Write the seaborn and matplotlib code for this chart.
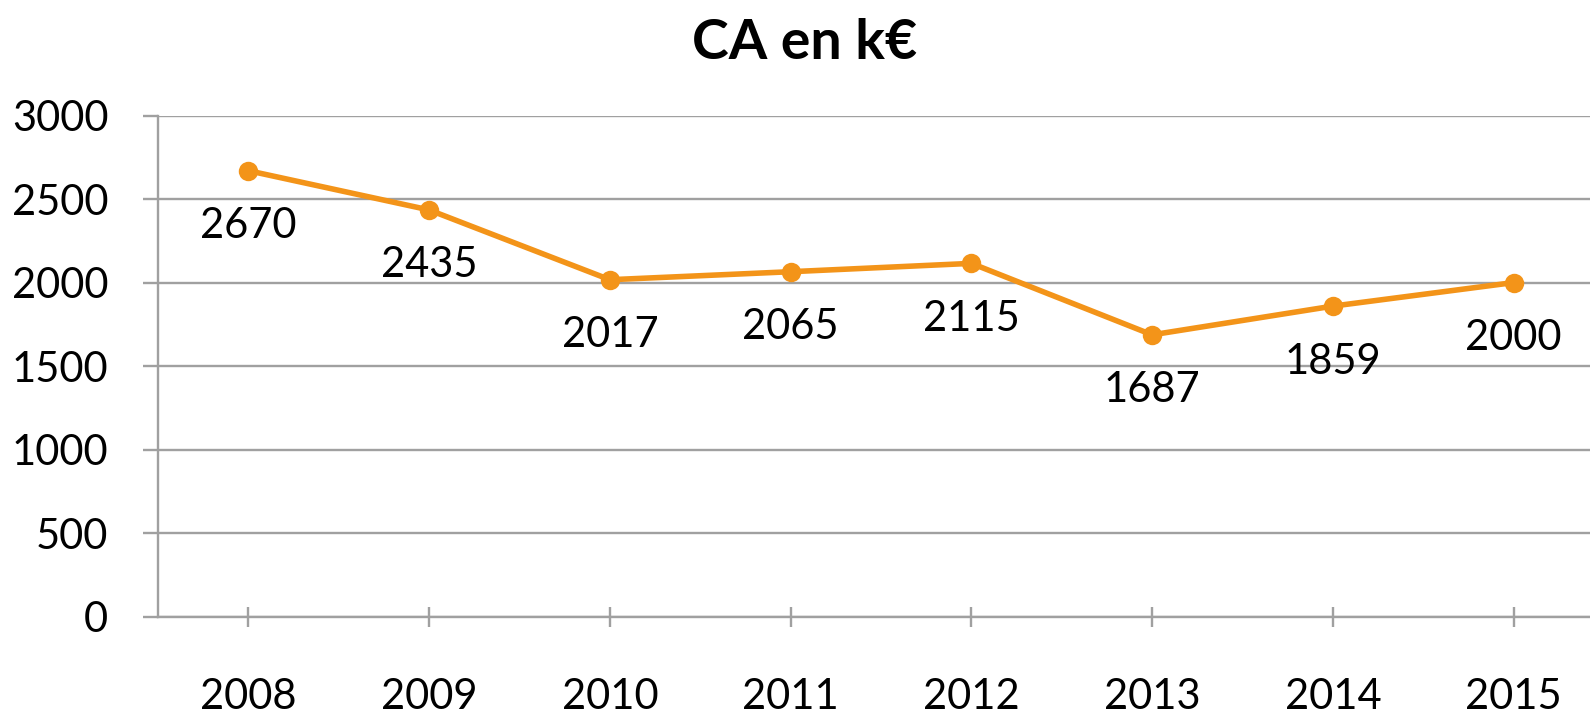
import matplotlib
matplotlib.use('Agg')
import matplotlib.pyplot as plt
import seaborn as sns
import pandas as pd

# data
years = ['2008', '2009', '2010', '2011', '2012', '2013', '2014', '2015']
ca = [2670, 2435, 2017, 2065, 2115, 1687, 1859, 2000]
y_ticks = [0, 500, 1000, 1500, 2000, 2500, 3000]

orange = '#F39419'
grey = '#A0A0A0'

sns.set_style('white')
plt.rcParams['font.family'] = ['Lato', 'DejaVu Sans']
plt.rcParams['text.color'] = 'black'
plt.rcParams['xtick.labelcolor'] = 'black'
plt.rcParams['ytick.labelcolor'] = 'black'

W, H = 1590, 719
fig = plt.figure(figsize=(W / 100, H / 100), dpi=100)
# axes runs a little past the right edge, like the cropped original
ax = fig.add_axes([158 / W, (H - 616.5) / H, (1604 - 158) / W, (616.5 - 115.6) / H])

df = pd.DataFrame({'annee': years, 'ca': ca})
sns.lineplot(data=df, x='annee', y='ca', ax=ax, sort=False,
             color=orange, lw=4, marker='o', markersize=14,
             markeredgewidth=0)

for i, v in enumerate(ca):
    ax.annotate(str(v), (i, v), xytext=(0, -40), textcoords='offset points',
                ha='center', va='center', fontsize=30, color='black')

ax.set_xlim(-0.5, len(years) - 0.5)
ax.set_ylim(0, 3000)
ax.set_yticks(y_ticks)
ax.yaxis.grid(True, color=grey, lw=1.7)
ax.set_axisbelow(True)

for s in ['top', 'right']:
    ax.spines[s].set_visible(False)
for s in ['left', 'bottom']:
    ax.spines[s].set_color(grey)
    ax.spines[s].set_linewidth(1.7)

ax.tick_params(axis='y', length=10.8, width=1.7, color=grey, pad=25,
               labelsize=30, left=True)
ax.tick_params(axis='x', direction='inout', length=15, width=1.7,
               color=grey, pad=37, labelsize=30, bottom=True)
ax.set_xlabel('')
ax.set_ylabel('')

fig.text(805 / W, 1 - 59 / H, 'CA en k€', ha='center', va='baseline',
         fontsize=40, fontweight='bold')

fig.savefig('out.png', dpi=100)
